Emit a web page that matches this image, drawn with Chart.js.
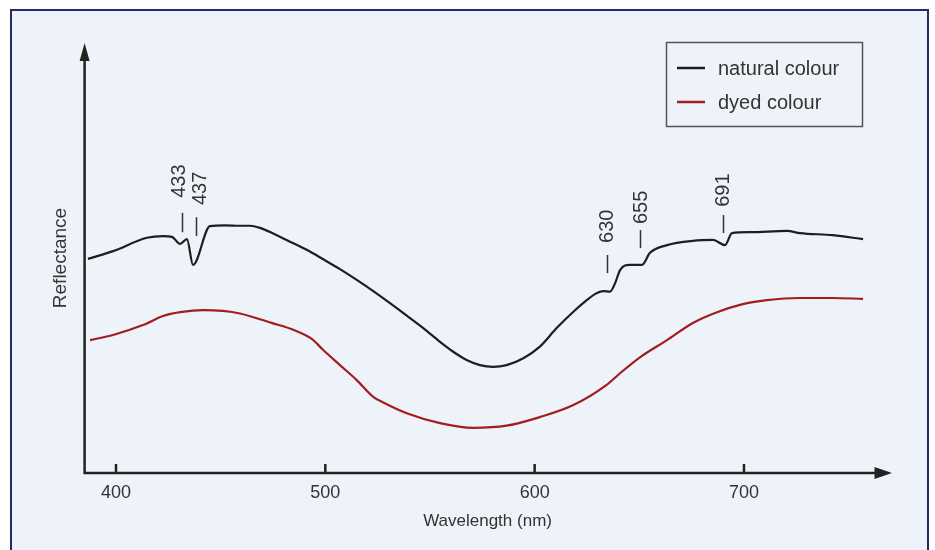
<!DOCTYPE html>
<html>
<head>
<meta charset="utf-8">
<script src="https://cdn.jsdelivr.net/npm/chart.js@4.4.0/dist/chart.umd.min.js"></script>
<style>
  html, body { margin: 0; padding: 0; background: #ffffff; }
  canvas { display: block; }
</style>
</head>
<body>
<canvas id="c" width="935" height="550"></canvas>
<script>
// ---- data ----
const naturalWavelength = [386.6, 398.6, 414.8, 422.5, 426.8, 430.6, 433.9, 436.8, 444.9, 452.0, 459.2, 464.0, 468.8, 475.1, 483.1, 491.1, 499.0, 507.0, 515.0, 522.9, 530.9, 538.9, 546.8, 554.8, 561.1, 567.5, 573.9, 580.2, 586.6, 594.6, 602.5, 610.5, 618.5, 624.9, 628.8, 632.8, 636.0, 638.4, 640.8, 645.5, 651.3, 655.1, 663.2, 675.6, 685.2, 690.9, 694.3, 702.9, 720.5, 726.8, 742.5, 756.9];
const naturalReflectance = [49.8, 51.6, 54.7, 55.1, 54.9, 53.3, 54.4, 48.4, 57.4, 57.6, 57.5, 57.5, 57.0, 55.7, 53.8, 51.9, 49.7, 47.4, 44.9, 42.3, 39.5, 36.6, 33.7, 30.5, 28.2, 26.3, 25.1, 24.7, 25.1, 26.7, 29.4, 33.7, 37.5, 40.2, 41.6, 42.3, 42.2, 44.1, 47.2, 48.4, 48.4, 51.2, 53.0, 54.0, 54.2, 53.0, 55.8, 56.0, 56.3, 55.8, 55.3, 54.4];

const dyedWavelength = [387.6, 398.6, 412.9, 422.5, 430.6, 441.6, 451.1, 459.2, 475.1, 484.7, 493.5, 499.0, 507.0, 515.0, 522.9, 527.7, 538.9, 554.8, 570.7, 586.6, 602.5, 618.5, 634.4, 640.8, 650.3, 663.2, 675.6, 687.1, 698.1, 711.0, 726.8, 742.5, 756.9];
const dyedReflectance = [30.9, 32.1, 34.4, 36.5, 37.4, 37.9, 37.7, 37.1, 34.8, 33.3, 31.2, 28.6, 25.1, 21.6, 17.7, 16.4, 13.9, 11.6, 10.5, 11.0, 13.0, 15.8, 20.5, 23.2, 26.9, 30.9, 34.9, 37.4, 39.1, 40.2, 40.7, 40.7, 40.5];

const seriesLabels = ['natural colour', 'dyed colour'];
const tickValues = [400, 500, 600, 700];
const tickLabels = ['400', '500', '600', '700'];

// annotated absorption features
const markerLabels = ['433', '437', '630', '655', '691'];
const markerWavelength = [431.5, 438.2, 634.6, 650.3, 690.0];
const markerTop = [60.5, 59.5, 50.7, 56.5, 60.0];
const markerBottom = [56.0, 55.1, 46.5, 52.3, 55.8];
const markerTextWavelength = [429.6, 439.6, 634.1, 650.3, 689.5];
const markerTextEnd = [64.0, 62.3, 53.5, 57.9, 61.9];

// ---- build ----
const toPoints = (xs, ys) => xs.map((x, i) => ({ x: x, y: ys[i] }));
const FONT = '"Liberation Sans", Arial, Helvetica, sans-serif';
Chart.defaults.font.family = FONT;

const decor = {
  id: 'decor',
  beforeDraw(chart) {
    const ctx = chart.ctx;
    ctx.save();
    ctx.fillStyle = '#ffffff';
    ctx.fillRect(0, 0, chart.width, chart.height);
    ctx.fillStyle = '#eef3fa';
    ctx.fillRect(11, 10, 917, 560);
    ctx.strokeStyle = '#222a6a';
    ctx.lineWidth = 2;
    ctx.strokeRect(11, 10, 917, 560);
    ctx.restore();
  },
  afterDatasetsDraw(chart) {
    const ctx = chart.ctx;
    const xs = chart.scales.x, ys = chart.scales.y;
    const a = chart.chartArea;
    ctx.save();
    // axes
    ctx.strokeStyle = '#222222';
    ctx.fillStyle = '#222222';
    ctx.lineWidth = 2.5;
    ctx.beginPath();
    ctx.moveTo(a.left - 1, a.bottom);
    ctx.lineTo(a.right - 10, a.bottom);
    ctx.moveTo(a.left, a.bottom + 1);
    ctx.lineTo(a.left, a.top + 10);
    ctx.stroke();
    // x arrow
    ctx.beginPath();
    ctx.moveTo(a.right + 1.5, a.bottom);
    ctx.lineTo(a.right - 16, a.bottom - 6);
    ctx.lineTo(a.right - 16, a.bottom + 6);
    ctx.closePath();
    ctx.fill();
    // y arrow
    ctx.beginPath();
    ctx.moveTo(a.left, a.top);
    ctx.lineTo(a.left - 5, a.top + 18);
    ctx.lineTo(a.left + 5, a.top + 18);
    ctx.closePath();
    ctx.fill();
    // tick marks (pointing up into the plot)
    ctx.lineWidth = 2.5;
    ctx.beginPath();
    tickValues.forEach(v => {
      const px = xs.getPixelForValue(v);
      ctx.moveTo(px, a.bottom);
      ctx.lineTo(px, a.bottom - 9);
    });
    ctx.stroke();

    // feature markers and labels
    ctx.strokeStyle = '#333333';
    ctx.fillStyle = '#333333';
    ctx.lineWidth = 1.5;
    ctx.font = '20px ' + FONT;
    markerLabels.forEach((lab, i) => {
      const px = Math.round(xs.getPixelForValue(markerWavelength[i])) + 0.5;
      ctx.beginPath();
      ctx.moveTo(px, ys.getPixelForValue(markerTop[i]));
      ctx.lineTo(px, ys.getPixelForValue(markerBottom[i]));
      ctx.stroke();
      const tx = xs.getPixelForValue(markerTextWavelength[i]);
      const ty = ys.getPixelForValue(markerTextEnd[i]);
      ctx.save();
      ctx.translate(tx, ty);
      ctx.rotate(-Math.PI / 2);
      ctx.textAlign = 'left';
      ctx.textBaseline = 'alphabetic';
      ctx.fillText(lab, 0, 7);
      ctx.restore();
    });

    // legend box
    ctx.strokeStyle = '#555555';
    ctx.lineWidth = 1.5;
    ctx.strokeRect(666.5, 42.5, 196, 84);
    ctx.font = '20px ' + FONT;
    ctx.textAlign = 'left';
    ctx.textBaseline = 'middle';
    chart.data.datasets.forEach((ds, i) => {
      const y = 68 + i * 34;
      ctx.strokeStyle = ds.borderColor;
      ctx.lineWidth = 2.5;
      ctx.beginPath();
      ctx.moveTo(677, y);
      ctx.lineTo(705, y);
      ctx.stroke();
      ctx.fillStyle = '#333333';
      ctx.fillText(ds.label, 718, y + 1);
    });
    ctx.restore();
  }
};

new Chart(document.getElementById('c'), {
  type: 'line',
  data: {
    datasets: [
      {
        label: seriesLabels[0],
        data: toPoints(naturalWavelength, naturalReflectance),
        borderColor: '#1e1e1e',
        borderWidth: 2.2,
        pointRadius: 0,
        fill: false,
        cubicInterpolationMode: 'monotone'
      },
      {
        label: seriesLabels[1],
        data: toPoints(dyedWavelength, dyedReflectance),
        borderColor: '#a11d22',
        borderWidth: 2.2,
        pointRadius: 0,
        fill: false,
        cubicInterpolationMode: 'monotone'
      }
    ]
  },
  options: {
    responsive: false,
    animation: false,
    devicePixelRatio: 1,
    layout: { padding: { top: 43, right: 44.5, left: 0, bottom: 0 } },
    plugins: { legend: { display: false }, tooltip: { enabled: false } },
    scales: {
      x: {
        type: 'linear',
        min: 385,
        max: 770,
        afterBuildTicks: s => { s.ticks = tickValues.map(v => ({ value: v })); },
        afterFit: s => { s.height = 77; },
        ticks: {
          autoSkip: false,
          maxRotation: 0,
          padding: 9,
          color: '#333333',
          font: { size: 18 },
          callback: v => tickLabels[tickValues.indexOf(v)]
        },
        grid: { display: false, drawTicks: false },
        border: { display: false },
        title: {
          display: true,
          text: 'Wavelength (nm)',
          color: '#333333',
          font: { size: 17 },
          padding: { top: 0, bottom: 18.8 }
        }
      },
      y: {
        min: 0,
        max: 100,
        afterFit: s => { s.width = 84.6; },
        ticks: { display: false },
        grid: { display: false, drawTicks: false },
        border: { display: false },
        title: {
          display: true,
          text: 'Reflectance',
          color: '#333333',
          font: { size: 19 },
          padding: { top: 49.6, bottom: 0 }
        }
      }
    }
  },
  plugins: [decor]
});
</script>
</body>
</html>
